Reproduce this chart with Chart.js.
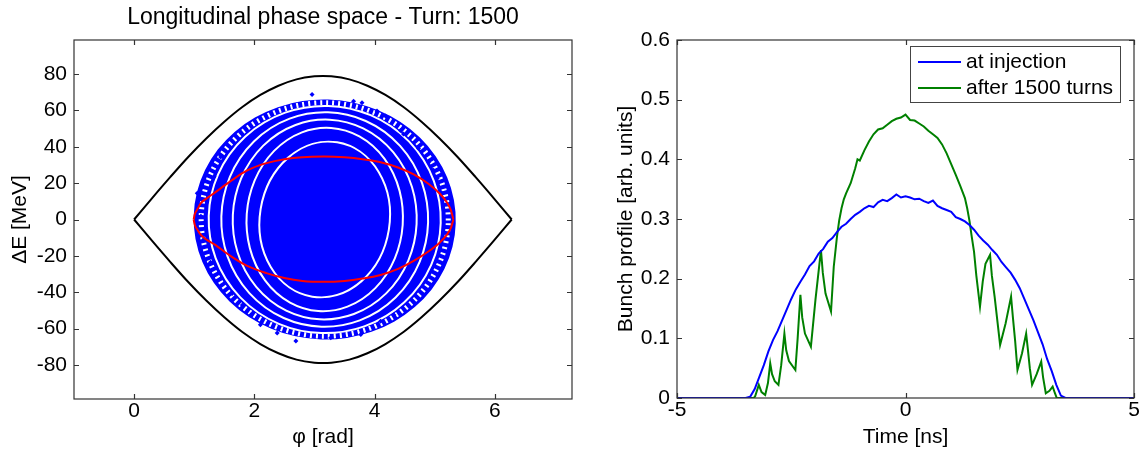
<!DOCTYPE html>
<html>
<head>
<meta charset="utf-8">
<script src="https://cdn.jsdelivr.net/npm/chart.js@4.4.1/dist/chart.umd.min.js"></script>
<style>
  html, body { margin: 0; padding: 0; background: #fff; }
  #wrap { position: relative; width: 1141px; height: 451px; }
  #phase { position: absolute; left: 0; top: 0; }
  #profile { position: absolute; left: 580px; top: 0; }
</style>
</head>
<body>
<div id="wrap">
  <canvas id="phase" width="580" height="451"></canvas>
  <canvas id="profile" width="561" height="451"></canvas>
</div>
<script>
// --- left panel: longitudinal phase space ---
const phiTicks = [0, 2, 4, 6];
const deTicks = [-80, -60, -40, -20, 0, 20, 40, 60, 80];

// separatrix (upper half, lower half is the mirror)
const sepPhi = [0, 0.3, 0.6, 0.9, 1.2, 1.5, 1.8, 2.1, 2.4, 2.7, 3.0, 3.14, 3.28, 3.58, 3.88, 4.18, 4.48, 4.78, 5.08, 5.38, 5.68, 5.98, 6.28];
const sepDE = [0, 11.8, 23.3, 34.4, 44.6, 53.8, 61.9, 68.5, 73.6, 77.1, 78.8, 79.0, 78.8, 77.1, 73.6, 68.5, 61.9, 53.8, 44.6, 34.4, 23.3, 11.8, 0];

// red matched contour
const rfPhi = [0.99, 1.01, 1.05, 1.11, 1.2, 1.33, 1.6, 1.88, 2.2, 2.5, 2.8, 3.16, 3.5, 3.8, 4.1, 4.4, 4.65, 4.9, 5.09, 5.2, 5.27, 5.31];
const rfUpper = [0, 3, 5.5, 9, 11.5, 14.5, 21, 27, 31, 33.2, 34.3, 34.6, 34.2, 33.2, 31.5, 28.5, 24.8, 19.5, 14, 9.5, 5, 0];
const rfLower = [0, -3, -5.5, -8.5, -11, -13.5, -20, -25.5, -29.5, -32.2, -33.8, -34.3, -33.8, -32.5, -30.5, -27, -22.8, -17.5, -12.5, -8.5, -4.5, 0];

// filamented bunch: centre, outer edge and the white gaps between the rings
const bunchCentre = [3.17, 0];
const edgeHalf = [2.18, 66];
const gapHalfPhi = [1.08, 1.30, 1.53, 1.72, 1.93];
const gapHalfDE = [43, 50.5, 55, 59, 62.5];
const gapTilt = [0.16, 0.07, 0.05, 0.03, 0.03];

// loose particles outside the rings
const dotPhi = [2.96, 3.65, 3.79, 4.04, 4.18, 4.43, 4.48, 4.73, 4.90, 4.98, 5.04, 5.12, 1.05, 1.11, 1.16, 1.27, 1.44, 1.63, 1.80, 1.94, 2.10, 2.38, 2.69, 1.86, 1.44, 1.33, 4.32, 4.10, 3.77, 3.27];
const dotDE = [68.8, 65.1, 64.2, 59.7, 57, 48.9, 47, 39, 31.6, 27.1, 22.6, 14.5, 14.5, 1.8, -10.9, -23.5, -32.6, -40.7, -47, -52.5, -57.9, -62.4, -66.9, 49.8, 34.4, 23.5, -52.5, -56, -63.3, -65.1];

// --- right panel: bunch profile ---
const timeTicks = [-5, 0, 5];
const profileTicks = [0, 0.1, 0.2, 0.3, 0.4, 0.5, 0.6];
const injT = [-5, -3.5, -3.4, -3.3, -3.2, -3.1, -3.0, -2.9, -2.8, -2.7, -2.6, -2.5, -2.4, -2.3, -2.2, -2.1, -2.0, -1.9, -1.8, -1.7, -1.6, -1.5, -1.4, -1.3, -1.2, -1.1, -1.0, -0.9, -0.8, -0.7, -0.6, -0.5, -0.4, -0.3, -0.2, -0.1, 0, 0.1, 0.2, 0.3, 0.4, 0.5, 0.6, 0.7, 0.8, 0.9, 1.0, 1.1, 1.2, 1.3, 1.4, 1.5, 1.6, 1.7, 1.8, 1.9, 2.0, 2.1, 2.2, 2.3, 2.4, 2.5, 2.6, 2.7, 2.8, 2.9, 3.0, 3.1, 3.2, 3.3, 3.4, 3.5, 5];
const injV = [0, 0, 0.002, 0.015, 0.035, 0.055, 0.078, 0.097, 0.112, 0.130, 0.148, 0.166, 0.182, 0.195, 0.207, 0.221, 0.229, 0.242, 0.250, 0.262, 0.268, 0.278, 0.287, 0.292, 0.300, 0.307, 0.312, 0.318, 0.322, 0.320, 0.328, 0.332, 0.330, 0.335, 0.341, 0.336, 0.338, 0.336, 0.333, 0.334, 0.330, 0.327, 0.331, 0.322, 0.318, 0.315, 0.312, 0.303, 0.300, 0.296, 0.290, 0.282, 0.272, 0.264, 0.257, 0.248, 0.240, 0.228, 0.219, 0.210, 0.198, 0.184, 0.166, 0.148, 0.130, 0.110, 0.090, 0.065, 0.045, 0.022, 0.004, 0, 0];

const afterT = [-5, -3.32, -3.29, -3.21, -3.15, -3.07, -3.01, -2.96, -2.92, -2.86, -2.78, -2.72, -2.65, -2.61, -2.55, -2.41, -2.36, -2.30, -2.26, -2.20, -2.07, -1.97, -1.85, -1.81, -1.75, -1.63, -1.57, -1.50, -1.45, -1.40, -1.35, -1.30, -1.20, -1.10, -1.05, -1.00, -0.90, -0.80, -0.70, -0.60, -0.50, -0.40, -0.30, -0.20, -0.10, 0, 0.10, 0.20, 0.30, 0.40, 0.50, 0.60, 0.70, 0.80, 0.90, 1.00, 1.10, 1.20, 1.30, 1.35, 1.40, 1.45, 1.50, 1.55, 1.63, 1.69, 1.75, 1.85, 1.89, 1.95, 2.07, 2.19, 2.31, 2.35, 2.40, 2.45, 2.55, 2.64, 2.68, 2.72, 2.77, 2.87, 2.97, 3.01, 3.07, 3.15, 3.22, 3.27, 3.31, 5];
const afterV = [0, 0, 0.003, 0.022, 0.010, 0.005, 0.025, 0.058, 0.040, 0.028, 0.022, 0.055, 0.108, 0.080, 0.062, 0.047, 0.100, 0.173, 0.135, 0.108, 0.086, 0.165, 0.248, 0.210, 0.175, 0.145, 0.220, 0.270, 0.298, 0.318, 0.333, 0.343, 0.360, 0.385, 0.400, 0.398, 0.415, 0.430, 0.442, 0.450, 0.452, 0.458, 0.464, 0.468, 0.470, 0.475, 0.466, 0.465, 0.460, 0.455, 0.448, 0.442, 0.436, 0.425, 0.410, 0.392, 0.374, 0.355, 0.335, 0.318, 0.297, 0.270, 0.245, 0.205, 0.153, 0.195, 0.225, 0.240, 0.205, 0.170, 0.089, 0.125, 0.170, 0.135, 0.095, 0.047, 0.075, 0.108, 0.080, 0.050, 0.022, 0.040, 0.061, 0.035, 0.008, 0.012, 0.019, 0.008, 0, 0];

const FONT = '"Liberation Sans", Arial, sans-serif';
Chart.defaults.font.family = FONT;
Chart.defaults.font.size = 21;
Chart.defaults.color = '#000';
Chart.defaults.animation = false;

const pts = (xs, ys) => xs.map((x, i) => ({ x: x, y: ys[i] }));

// matlab style box: frame plus inward ticks on all four sides
const matlabBox = {
  id: 'matlabBox',
  afterDatasetsDraw(chart) {
    const { ctx, chartArea: a, scales } = chart;
    ctx.save();
    ctx.strokeStyle = '#333';
    ctx.lineWidth = 1.2;
    ctx.strokeRect(a.left, a.top, a.right - a.left, a.bottom - a.top);
    ctx.beginPath();
    scales.x.ticks.forEach(t => {
      const x = Math.round(scales.x.getPixelForValue(t.value)) + 0.5;
      ctx.moveTo(x, a.bottom); ctx.lineTo(x, a.bottom - 5);
      ctx.moveTo(x, a.top); ctx.lineTo(x, a.top + 5);
    });
    scales.y.ticks.forEach(t => {
      const y = Math.round(scales.y.getPixelForValue(t.value)) + 0.5;
      ctx.moveTo(a.left, y); ctx.lineTo(a.left + 5, y);
      ctx.moveTo(a.right, y); ctx.lineTo(a.right - 5, y);
    });
    ctx.stroke();
    ctx.restore();
  }
};

// filled rings of the bunch, placed through the chart scales
const bunchRings = {
  id: 'bunchRings',
  beforeDatasetsDraw(chart) {
    const { ctx, chartArea: a, scales: { x, y } } = chart;
    const cx = x.getPixelForValue(bunchCentre[0]);
    const cy = y.getPixelForValue(bunchCentre[1]);
    const rx = w => Math.abs(x.getPixelForValue(bunchCentre[0] + w) - cx);
    const ry = h => Math.abs(y.getPixelForValue(bunchCentre[1] + h) - cy);
    ctx.save();
    ctx.beginPath();
    ctx.rect(a.left, a.top, a.right - a.left, a.bottom - a.top);
    ctx.clip();
    ctx.fillStyle = '#0000ff';
    ctx.beginPath();
    ctx.ellipse(cx, cy, rx(edgeHalf[0]), ry(edgeHalf[1]), 0.03, 0, 2 * Math.PI);
    ctx.fill();
    ctx.strokeStyle = '#fff';
    ctx.lineWidth = 2;
    gapHalfPhi.forEach((w, i) => {
      ctx.beginPath();
      ctx.ellipse(cx, cy, rx(w), ry(gapHalfDE[i]), gapTilt[i], 0, 2 * Math.PI);
      ctx.stroke();
    });
    // break the outermost band up into loose dots
    ctx.setLineDash([2, 4]);
    ctx.lineWidth = 5;
    ctx.beginPath();
    ctx.ellipse(cx, cy, rx((gapHalfPhi[4] + edgeHalf[0]) / 2), ry((gapHalfDE[4] + edgeHalf[1]) / 2), 0.03, 0, 2 * Math.PI);
    ctx.stroke();
    ctx.restore();
  }
};

// title drawn above the plot area
const panelTitle = {
  id: 'panelTitle',
  afterDraw(chart, args, opts) {
    if (!opts.text) return;
    const { ctx, chartArea: a } = chart;
    ctx.save();
    ctx.font = '23px ' + FONT;
    ctx.fillStyle = '#000';
    ctx.textAlign = 'center';
    ctx.textBaseline = 'middle';
    ctx.fillText(opts.text, (a.left + a.right) / 2, a.top - 22);
    ctx.restore();
  }
};

// boxed legend inside the upper right corner
const boxLegend = {
  id: 'boxLegend',
  afterDraw(chart, args, opts) {
    if (!opts.show) return;
    const { ctx, chartArea: a } = chart;
    const w = 210, h = 56;
    const left = a.right - 14 - w, top = a.top + 6;
    ctx.save();
    ctx.fillStyle = '#fff';
    ctx.fillRect(left, top, w, h);
    ctx.strokeStyle = '#444';
    ctx.lineWidth = 1;
    ctx.strokeRect(left + 0.5, top + 0.5, w, h);
    ctx.font = '21px ' + FONT;
    ctx.textBaseline = 'middle';
    ctx.fillStyle = '#000';
    chart.data.datasets.forEach((ds, i) => {
      const yy = top + 16 + i * 26;
      ctx.strokeStyle = ds.borderColor;
      ctx.lineWidth = 2;
      ctx.beginPath();
      ctx.moveTo(left + 8, yy);
      ctx.lineTo(left + 51, yy);
      ctx.stroke();
      ctx.fillText(ds.label, left + 56, yy);
    });
    ctx.restore();
  }
};

function axisX(min, max, ticks, title, height) {
  return {
    type: 'linear', min: min, max: max,
    grid: { display: false, drawTicks: false }, border: { display: false },
    afterBuildTicks: s => { s.ticks = ticks.map(v => ({ value: v })); },
    afterFit: s => { s.height = height; },
    ticks: { padding: 0, maxRotation: 0, autoSkip: false },
    title: { display: true, text: title, padding: { top: 0, bottom: 1.5 } }
  };
}

function axisY(min, max, ticks, title, width, titlePad) {
  return {
    type: 'linear', min: min, max: max,
    grid: { display: false, drawTicks: false }, border: { display: false },
    afterBuildTicks: s => { s.ticks = ticks.map(v => ({ value: v })); },
    afterFit: s => { s.width = width; },
    ticks: { padding: 7, autoSkip: false },
    title: { display: true, text: title, padding: { top: titlePad, bottom: 0 } }
  };
}

new Chart(document.getElementById('phase'), {
  type: 'scatter',
  data: {
    datasets: [
      { data: pts(rfPhi, rfUpper), showLine: true, borderColor: '#ff0000', borderWidth: 2, pointRadius: 0, cubicInterpolationMode: 'monotone' },
      { data: pts(rfPhi, rfLower), showLine: true, borderColor: '#ff0000', borderWidth: 2, pointRadius: 0, cubicInterpolationMode: 'monotone' },
      { data: pts(sepPhi, sepDE), showLine: true, borderColor: '#000', borderWidth: 2, pointRadius: 0, cubicInterpolationMode: 'monotone' },
      { data: pts(sepPhi, sepDE.map(v => -v)), showLine: true, borderColor: '#000', borderWidth: 2, pointRadius: 0, cubicInterpolationMode: 'monotone' },
      { data: pts(dotPhi, dotDE), showLine: false, pointStyle: 'rectRot', pointRadius: 2.5, backgroundColor: '#0000ff', borderColor: '#0000ff', borderWidth: 0 }
    ]
  },
  options: {
    responsive: false,
    devicePixelRatio: 1,
    layout: { padding: { left: 0, right: 8, top: 40, bottom: 0 } },
    plugins: { legend: { display: false }, tooltip: { enabled: false }, panelTitle: { text: 'Longitudinal phase space - Turn: 1500' } },
    scales: {
      x: axisX(-1, 7.283, phiTicks, 'φ [rad]', 52),
      y: axisY(-98.75, 98.75, deTicks, 'ΔE [MeV]', 74, 8)
    }
  },
  plugins: [bunchRings, matlabBox, panelTitle]
});

new Chart(document.getElementById('profile'), {
  type: 'scatter',
  data: {
    datasets: [
      { label: 'at injection', data: pts(injT, injV), showLine: true, borderColor: '#0000ff', borderWidth: 2, pointRadius: 0, tension: 0 },
      { label: 'after 1500 turns', data: pts(afterT, afterV), showLine: true, borderColor: '#008000', borderWidth: 2, pointRadius: 0, tension: 0 }
    ]
  },
  options: {
    responsive: false,
    devicePixelRatio: 1,
    layout: { padding: { left: 0, right: 7, top: 40, bottom: 0 } },
    plugins: { legend: { display: false }, tooltip: { enabled: false }, boxLegend: { show: true } },
    scales: {
      x: axisX(-5, 5, timeTicks, 'Time [ns]', 53),
      y: axisY(0, 0.6, profileTicks, 'Bunch profile [arb. units]', 97, 34)
    }
  },
  plugins: [matlabBox, boxLegend]
});
</script>
</body>
</html>
